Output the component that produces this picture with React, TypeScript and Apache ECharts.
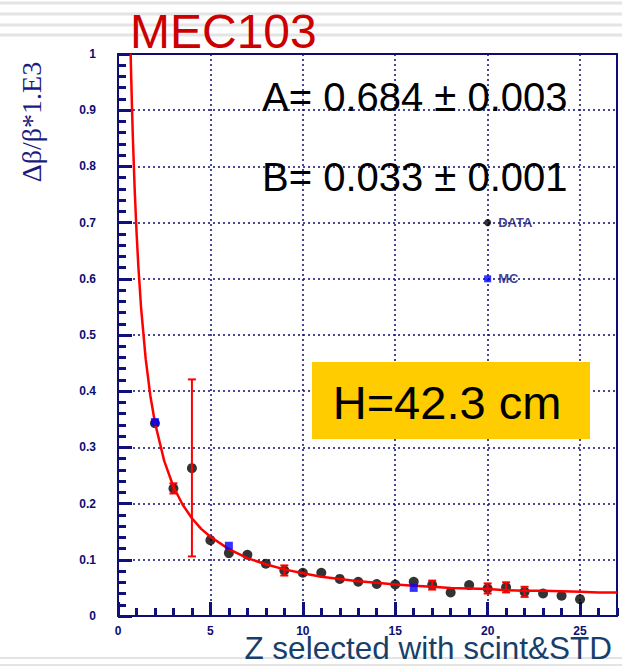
import React, { useEffect, useRef } from "react";
import * as echarts from "echarts";

// DATA points (Z, value)
const dataZ = [2, 3, 4, 5, 6, 7, 8, 9, 10, 11, 12, 13, 14, 15, 16, 17, 18, 19, 20, 21, 22, 23, 24, 25];
const dataVal = [0.343, 0.227, 0.263, 0.135, 0.112, 0.109, 0.093, 0.081, 0.077, 0.077, 0.066, 0.061, 0.057, 0.056, 0.061, 0.055, 0.042, 0.055, 0.049, 0.051, 0.043, 0.040, 0.036, 0.030];
// MC points
const mcZ = [2, 6, 16];
const mcVal = [0.345, 0.125, 0.050];
// Error bars (visible)
const errZ = [3, 4, 9, 17, 20, 21, 22];
const errLow = [0.218, 0.106, 0.072, 0.047, 0.040, 0.042, 0.034];
const errHigh = [0.236, 0.421, 0.090, 0.063, 0.058, 0.060, 0.052];
// Fit curve
const fitZ = [0.684, 0.7, 0.75, 0.8, 0.9, 1.0, 1.1, 1.25, 1.5, 1.75, 2, 2.5, 3, 3.5, 4, 4.5, 5, 6, 7, 8, 9, 10, 11, 12, 13, 14, 15, 16, 17, 18, 19, 20, 21, 22, 23, 24, 25, 26, 27];
const fitVal = [1.0, 0.978, 0.913, 0.856, 0.761, 0.685, 0.623, 0.548, 0.457, 0.392, 0.344, 0.276, 0.230, 0.198, 0.174, 0.155, 0.141, 0.119, 0.103, 0.092, 0.083, 0.076, 0.070, 0.066, 0.062, 0.059, 0.056, 0.054, 0.052, 0.050, 0.049, 0.048, 0.046, 0.045, 0.045, 0.044, 0.043, 0.042, 0.042];

// Axis scales
const xMin = 0, xMax = 27, xStep = 5, xMinorStep = 1;
const yMin = 0, yMax = 1, yStep = 0.1, yMinorSplit = 5;

const NAVY = "#0d0d73";
const FONT = "'Liberation Sans', Arial, sans-serif";

export default function App() {
  const ref = useRef<HTMLDivElement>(null);
  useEffect(() => {
    if (!ref.current) return;
    const chart = echarts.init(ref.current, null, { renderer: "svg" });
    const frameLine = { show: true, onZero: false, lineStyle: { color: NAVY, width: 2 } };
    const dotted = { show: true, lineStyle: { color: NAVY, type: [2, 3], width: 1.5 } };
    const tickStyle = { color: "#10107a", width: 3 };
    const option: any = {
      animation: false,
      backgroundColor: "#ffffff",
      grid: { left: 118, top: 54, width: 499, height: 562, show: false, containLabel: false },
      xAxis: [
        {
          type: "value", min: xMin, max: xMax, interval: xStep, position: "bottom",
          axisLine: frameLine,
          axisTick: { show: true, inside: true, length: 14, lineStyle: tickStyle },
          axisLabel: { show: true, showMaxLabel: false, color: NAVY, fontSize: 12, fontWeight: "bold", fontFamily: FONT, margin: 9 },
          splitLine: dotted,
        },
        {
          type: "value", min: xMin, max: xMax, interval: xMinorStep, position: "bottom",
          axisLine: { show: false, onZero: false },
          axisTick: { show: true, inside: true, length: 8, lineStyle: tickStyle },
          axisLabel: { show: false }, splitLine: { show: false },
        },
        {
          type: "value", min: xMin, max: xMax, interval: xStep, position: "top",
          axisLine: frameLine, axisTick: { show: false }, axisLabel: { show: false }, splitLine: { show: false },
        },
      ],
      yAxis: [
        {
          type: "value", min: yMin, max: yMax, interval: yStep, position: "left",
          axisLine: frameLine,
          axisTick: { show: true, inside: true, length: 14, lineStyle: tickStyle },
          minorTick: { show: true, splitNumber: yMinorSplit, length: 8, lineStyle: tickStyle },
          axisLabel: { color: NAVY, fontSize: 12, fontWeight: "bold", fontFamily: FONT, margin: 22 },
          splitLine: dotted,
        },
        {
          type: "value", min: yMin, max: yMax, interval: yStep, position: "right",
          axisLine: frameLine, axisTick: { show: false }, axisLabel: { show: false }, splitLine: { show: false },
        },
      ],
      series: [
        {
          type: "scatter", name: "DATA", symbol: "circle", symbolSize: 10,
          itemStyle: { color: "#000000" },
          data: dataZ.map((z, i) => [z, dataVal[i]]), z: 3,
        },
        {
          type: "custom", name: "err",
          renderItem: (params: any, api: any) => {
            const x = api.value(0);
            const pLo = api.coord([x, api.value(1)]);
            const pHi = api.coord([x, api.value(2)]);
            const w = 4;
            const st = { stroke: "#ff0000", lineWidth: 2 };
            return {
              type: "group",
              children: [
                { type: "line", shape: { x1: pLo[0], y1: pLo[1], x2: pHi[0], y2: pHi[1] }, style: st },
                { type: "line", shape: { x1: pLo[0] - w, y1: pLo[1], x2: pLo[0] + w, y2: pLo[1] }, style: st },
                { type: "line", shape: { x1: pHi[0] - w, y1: pHi[1], x2: pHi[0] + w, y2: pHi[1] }, style: st },
              ],
            };
          },
          encode: { x: 0, y: [1, 2] },
          data: errZ.map((z, i) => [z, errLow[i], errHigh[i]]), z: 4,
        },
        {
          type: "line", name: "fit", showSymbol: false, smooth: false, clip: true,
          lineStyle: { color: "#ff0000", width: 2.5 },
          data: fitZ.map((z, i) => [z, fitVal[i]]), z: 5,
        },
        {
          type: "scatter", name: "MC", symbol: "rect", symbolSize: 8,
          itemStyle: { color: "#0000ff" },
          data: mcZ.map((z, i) => [z, mcVal[i]]), z: 6,
        },
        {
          type: "scatter", name: "legData", symbol: "circle", symbolSize: 7,
          itemStyle: { color: "#000000" },
          label: { show: true, position: "right", distance: 7, formatter: "DATA", color: NAVY, fontSize: 13, fontWeight: "bold", fontFamily: FONT },
          data: [[20, 0.7]], z: 6,
        },
        {
          type: "scatter", name: "legMC", symbol: "rect", symbolSize: 7,
          itemStyle: { color: "#0000ff" },
          label: { show: true, position: "right", distance: 7, formatter: "MC", color: NAVY, fontSize: 13, fontWeight: "bold", fontFamily: FONT },
          data: [[20, 0.6]], z: 6,
        },
      ],
      graphic: [
        { type: "line", shape: { x1: 0, y1: 3, x2: 622, y2: 3 }, style: { stroke: "#e4e4e4", lineWidth: 3 }, z: 0 },
        { type: "line", shape: { x1: 0, y1: 14, x2: 622, y2: 14 }, style: { stroke: "#e4e4e4", lineWidth: 3 }, z: 0 },
        { type: "line", shape: { x1: 0, y1: 25, x2: 622, y2: 25 }, style: { stroke: "#e4e4e4", lineWidth: 3 }, z: 0 },
        { type: "line", shape: { x1: 0, y1: 35, x2: 622, y2: 35 }, style: { stroke: "#e4e4e4", lineWidth: 3 }, z: 0 },
        { type: "line", shape: { x1: 0, y1: 658, x2: 622, y2: 658 }, style: { stroke: "#e4e4e4", lineWidth: 2 }, z: 0 },
        { type: "line", shape: { x1: 0, y1: 665, x2: 622, y2: 665 }, style: { stroke: "#e4e4e4", lineWidth: 2 }, z: 0 },
        { type: "text", x: 130, y: 31, z: 10, style: { text: "MEC103", fill: "#cc0000", font: "48px " + FONT, textAlign: "left", textVerticalAlign: "middle" } },
        { type: "text", x: 31, y: 122, rotation: Math.PI / 2, z: 10, style: { text: "Δβ/β*1.E3", fill: "#1a1a80", font: "28px 'Liberation Serif', 'Times New Roman', serif", textAlign: "center", textVerticalAlign: "middle" } },
        { type: "text", x: 612, y: 648, z: 10, style: { text: "Z selected with scint&STD", fill: "#173f6b", font: "31.5px " + FONT, textAlign: "right", textVerticalAlign: "middle" } },
        { type: "text", x: 262, y: 97, z: 10, style: { text: "A= 0.684 ± 0.003", fill: "#000000", font: "40px " + FONT, textAlign: "left", textVerticalAlign: "middle" } },
        { type: "text", x: 262, y: 177, z: 10, style: { text: "B= 0.033 ± 0.001", fill: "#000000", font: "40px " + FONT, textAlign: "left", textVerticalAlign: "middle" } },
        { type: "rect", shape: { x: 312, y: 362, width: 278, height: 77 }, z: 20, style: { fill: "#ffcc00" } },
        { type: "text", x: 447, y: 402, z: 21, style: { text: "H=42.3 cm", fill: "#000000", font: "47px " + FONT, textAlign: "center", textVerticalAlign: "middle" } },
      ],
    };
    chart.setOption(option);
    return () => chart.dispose();
  }, []);
  return <div ref={ref} style={{ width: 622, height: 667, position: "absolute", left: 0, top: 0 }} />;
}
